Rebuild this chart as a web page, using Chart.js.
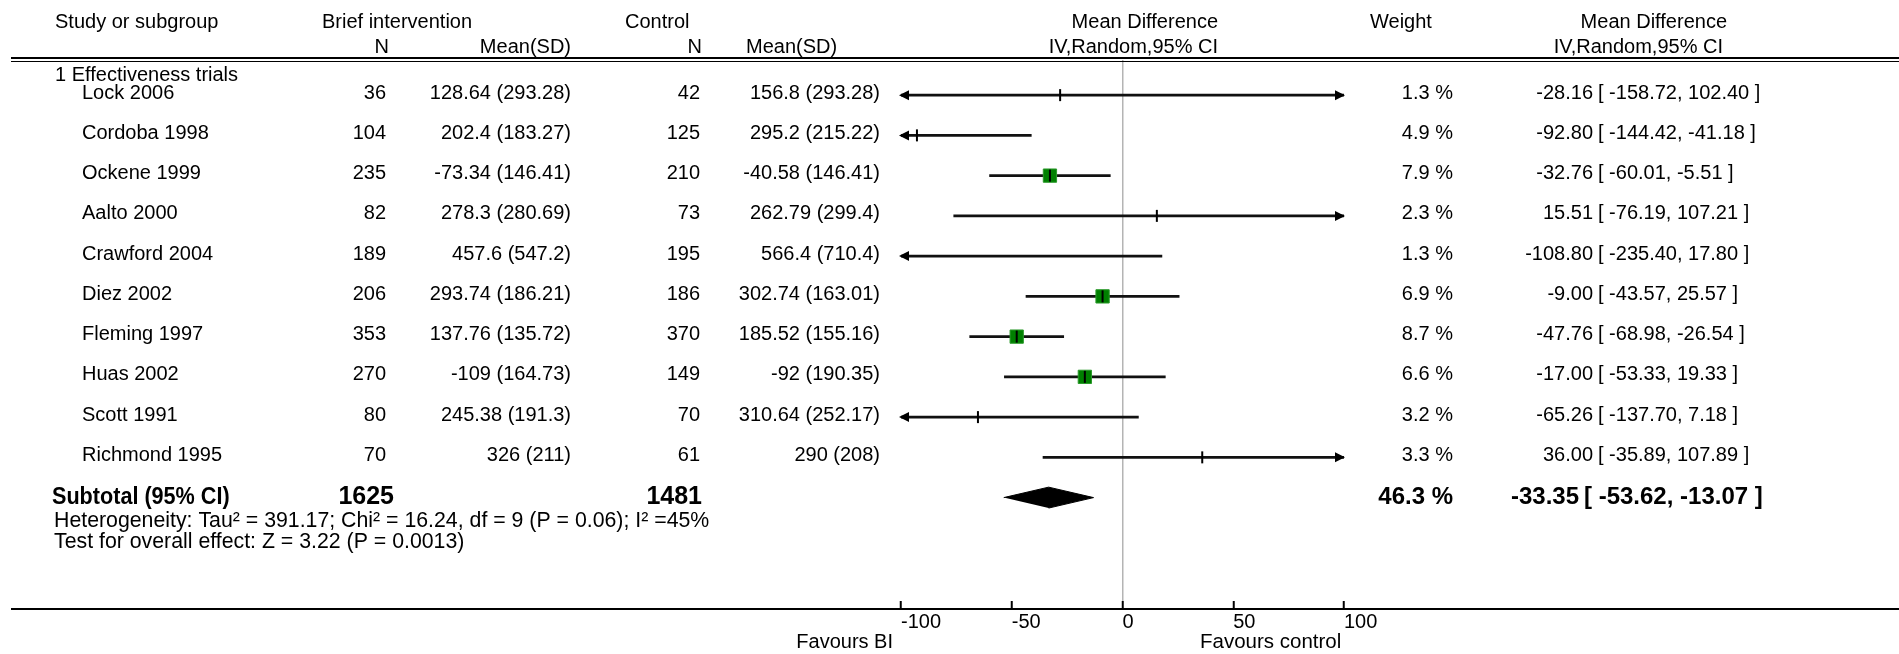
<!DOCTYPE html>
<html>
<head>
<meta charset="utf-8">
<title>Brief intervention vs control - forest plot</title>
<script src="https://cdn.jsdelivr.net/npm/chart.js@4.4.1/dist/chart.umd.min.js"></script>
<style>
  html, body { margin: 0; padding: 0; background: #fff; }
  canvas { display: block; }
</style>
</head>
<body>
<canvas id="forest" width="1899" height="654"></canvas>
<script>
// one row per trial
const studies = ['Lock 2006', 'Cordoba 1998', 'Ockene 1999', 'Aalto 2000', 'Crawford 2004',
  'Diez 2002', 'Fleming 1997', 'Huas 2002', 'Scott 1991', 'Richmond 1995'];
const nBI = [36, 104, 235, 82, 189, 206, 353, 270, 80, 70];
const meanBI = [128.64, 202.4, -73.34, 278.3, 457.6, 293.74, 137.76, -109, 245.38, 326];
const sdBI = [293.28, 183.27, 146.41, 280.69, 547.2, 186.21, 135.72, 164.73, 191.3, 211];
const nCtrl = [42, 125, 210, 73, 195, 186, 370, 149, 70, 61];
const meanCtrl = [156.8, 295.2, -40.58, 262.79, 566.4, 302.74, 185.52, -92, 310.64, 290];
const sdCtrl = [293.28, 215.22, 146.41, 299.4, 710.4, 163.01, 155.16, 190.35, 252.17, 208];
const md = [-28.16, -92.80, -32.76, 15.51, -108.80, -9.00, -47.76, -17.00, -65.26, 36.00];
const ciLow = [-158.72, -144.42, -60.01, -76.19, -235.40, -43.57, -68.98, -53.33, -137.70, -35.89];
const ciHigh = [102.40, -41.18, -5.51, 107.21, 17.80, 25.57, -26.54, 19.33, 7.18, 107.89];
const weight = [1.3, 4.9, 7.9, 2.3, 1.3, 6.9, 8.7, 6.6, 3.2, 3.3];

// subgroup total
const totalN = [1625, 1481];
const pooled = [-33.35, -53.62, -13.07]; // estimate, lower, upper
const pooledWeight = 46.3;

const xTicks = [-100, -50, 0, 50, 100];

const FONT = "'Liberation Sans', Arial, sans-serif";
const totalRow = studies.length;
const diamondHalf = 0.26;

// sx < 1 squeezes the text sideways
function text(ctx, s, x, y, align, size, bold, sx) {
  ctx.save();
  ctx.font = (bold ? 'bold ' : '') + size + 'px ' + FONT;
  ctx.textAlign = align;
  ctx.textBaseline = 'middle';
  ctx.fillStyle = '#000';
  ctx.translate(x, y);
  ctx.scale(sx || 1, 1);
  ctx.fillText(s, 0, 0);
  ctx.restore();
}

function rule(ctx, x1, y, x2, w) {
  ctx.lineWidth = w;
  ctx.beginPath();
  ctx.moveTo(x1, y);
  ctx.lineTo(x2, y);
  ctx.stroke();
}

// arrow heads where a CI runs off the axis
const ciArrows = {
  id: 'ciArrows',
  afterDatasetsDraw(chart) {
    const { ctx } = chart;
    const xs = chart.scales.x, ys = chart.scales.y;
    ctx.save();
    ctx.fillStyle = '#000';
    const head = (tip, y, dir) => {
      ctx.beginPath();
      ctx.moveTo(tip, y);
      ctx.lineTo(tip - dir * 10, y - 5);
      ctx.lineTo(tip - dir * 10, y + 5);
      ctx.closePath();
      ctx.fill();
    };
    studies.forEach((s, i) => {
      const py = ys.getPixelForValue(i);
      if (ciLow[i] < xs.min) head(xs.getPixelForValue(xs.min) - 2, py, -1);
      if (ciHigh[i] > xs.max) head(xs.getPixelForValue(xs.max) + 1, py, 1);
    });
    ctx.restore();
  }
};

// table columns, headings and rules
const forestTable = {
  id: 'forestTable',
  afterDraw(chart) {
    const { ctx, width } = chart;
    const xs = chart.scales.x, ys = chart.scales.y;
    ctx.save();

    // headings
    text(ctx, 'Study or subgroup', 55, 22, 'left', 20);
    text(ctx, 'Brief intervention', 322, 22, 'left', 20);
    text(ctx, 'Control', 625, 22, 'left', 20);
    text(ctx, 'Mean Difference', 1218, 22, 'right', 20);
    text(ctx, 'Weight', 1370, 22, 'left', 20);
    text(ctx, 'Mean Difference', 1727, 22, 'right', 20);
    text(ctx, 'N', 389, 47, 'right', 20);
    text(ctx, 'Mean(SD)', 571, 47, 'right', 20);
    text(ctx, 'N', 702, 47, 'right', 20);
    text(ctx, 'Mean(SD)', 746, 47, 'left', 20);
    text(ctx, 'IV,Random,95% CI', 1218, 47, 'right', 20);
    text(ctx, 'IV,Random,95% CI', 1723, 47, 'right', 20);

    ctx.strokeStyle = '#000';
    rule(ctx, 11, 58, width, 2);
    rule(ctx, 11, 61.5, width, 1);

    text(ctx, '1 Effectiveness trials', 55, ys.getPixelForValue(-0.48), 'left', 20);

    studies.forEach((s, i) => {
      const py = ys.getPixelForValue(i) - 2;
      text(ctx, s, 82, py, 'left', 20);
      text(ctx, String(nBI[i]), 386, py, 'right', 20);
      text(ctx, meanBI[i] + ' (' + sdBI[i] + ')', 571, py, 'right', 20);
      text(ctx, String(nCtrl[i]), 700, py, 'right', 20);
      text(ctx, meanCtrl[i] + ' (' + sdCtrl[i] + ')', 880, py, 'right', 20);
      text(ctx, weight[i].toFixed(1) + ' %', 1453, py, 'right', 20);
      text(ctx, md[i].toFixed(2), 1593, py, 'right', 20);
      text(ctx, '[ ' + ciLow[i].toFixed(2) + ', ' + ciHigh[i].toFixed(2) + ' ]', 1598, py, 'left', 20);
    });

    // subtotal row
    const ty = ys.getPixelForValue(totalRow);
    text(ctx, 'Subtotal (95% CI)', 52, ty, 'left', 24, true, 0.9);
    text(ctx, String(totalN[0]), 394, ty, 'right', 25, true);
    text(ctx, String(totalN[1]), 702, ty, 'right', 25, true);
    text(ctx, pooledWeight.toFixed(1) + ' %', 1453, ty, 'right', 24, true);
    text(ctx, pooled[0].toFixed(2), 1579, ty, 'right', 24, true);
    text(ctx, '[ ' + pooled[1].toFixed(2) + ', ' + pooled[2].toFixed(2) + ' ]', 1584, ty, 'left', 24, true);

    text(ctx, 'Heterogeneity: Tau\u00b2 = 391.17; Chi\u00b2 = 16.24, df = 9 (P = 0.06); I\u00b2 =45%', 54, ty + 24, 'left', 21.3);
    text(ctx, 'Test for overall effect: Z = 3.22 (P = 0.0013)', 54, ty + 45, 'left', 21.3);

    // axis line across the page
    const axisY = xs.top + xs.options.grid.tickLength;
    rule(ctx, 11, axisY, width, 2);

    text(ctx, 'Favours BI', xs.left - 8, 642, 'right', 20);
    text(ctx, 'Favours control', xs.getPixelForValue(35), 642, 'left', 20.5);
    ctx.restore();
  }
};

new Chart(document.getElementById('forest'), {
  type: 'scatter',
  data: {
    datasets: [
      {
        label: 'Mean difference',
        order: 0,
        data: md.map((v, i) => ({ x: v, y: i })),
        pointStyle: 'line',
        rotation: 90,
        pointRadius: 6,
        borderColor: '#000',
        borderWidth: 2
      },
      {
        label: 'Weight',
        order: 1,
        data: md.map((v, i) => ({ x: v, y: i })),
        pointStyle: 'rect',
        pointRadius: ctx => weight[ctx.dataIndex] >= 5 ? 9.4 : 0,
        backgroundColor: '#008000',
        borderColor: '#2b9a2b',
        borderWidth: 1
      },
      {
        type: 'bar',
        label: '95% CI',
        order: 2,
        indexAxis: 'y',
        data: studies.map((s, i) => ({ y: i, x: [ciLow[i], ciHigh[i]] })),
        backgroundColor: '#111',
        barThickness: 2,
        grouped: false
      },
      {
        type: 'line',
        label: 'Subtotal',
        order: 3,
        data: [
          { x: pooled[1], y: totalRow },
          { x: pooled[0], y: totalRow - diamondHalf },
          { x: pooled[2], y: totalRow },
          { x: pooled[0], y: totalRow + diamondHalf }
        ],
        fill: 'shape',
        backgroundColor: '#000',
        borderColor: '#000',
        borderWidth: 1,
        pointRadius: 0,
        tension: 0
      }
    ]
  },
  options: {
    responsive: false,
    animation: false,
    devicePixelRatio: 1,
    events: [],
    layout: { padding: { left: 901, right: 555, top: 60, bottom: 0 } },
    plugins: {
      legend: { display: false },
      tooltip: { enabled: false }
    },
    scales: {
      x: {
        type: 'linear',
        min: -100,
        max: 100,
        offset: false,
        afterBuildTicks: s => { s.ticks = xTicks.map(v => ({ value: v })); },
        afterFit: s => { s.height = 53; },
        border: { display: false },
        grid: {
          offset: false,
          drawOnChartArea: true,
          color: c => (c.tick && c.tick.value === 0) ? '#b4b4b4' : 'rgba(0,0,0,0)',
          lineWidth: 1.5,
          drawTicks: true,
          tickLength: 8,
          tickColor: '#000',
          tickWidth: 2
        },
        ticks: {
          align: 'start',
          padding: 1,
          color: '#000',
          autoSkip: false,
          maxRotation: 0,
          font: { family: FONT, size: 20 }
        }
      },
      y: {
        type: 'linear',
        display: false,
        offset: false,
        grid: { offset: false },
        reverse: true,
        min: -0.873,
        max: 12.569
      }
    }
  },
  plugins: [ciArrows, forestTable]
});
</script>
</body>
</html>
